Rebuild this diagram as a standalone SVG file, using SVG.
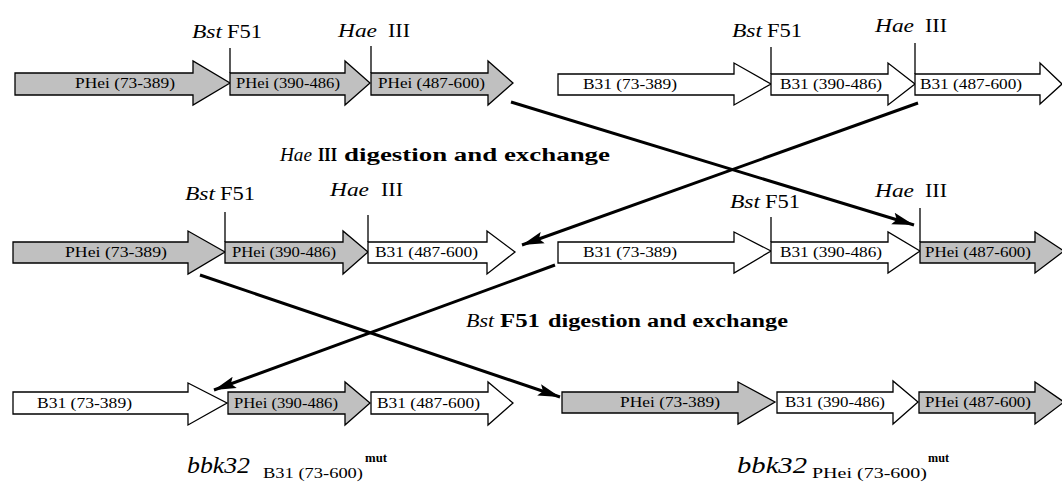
<svg xmlns="http://www.w3.org/2000/svg" width="1062" height="482" viewBox="0 0 1062 482">
  <style>
    .phei { fill: #c0c0c0; stroke: #000; stroke-width: 1.3; }
    .b31 { fill: #fff; stroke: #000; stroke-width: 1.3; }
    .seg { font-family: "Liberation Serif", "Times New Roman", serif; font-size: 15px; fill: #000; }
    .site { font-family: "Liberation Serif", "Times New Roman", serif; font-size: 19px; fill: #000; }
    .cut { stroke: #000; stroke-width: 1.3; }
    .title { font-family: "Liberation Serif", "Times New Roman", serif; font-size: 18px; fill: #000; }
    .name { font-family: "Liberation Serif", "Times New Roman", serif; fill: #000; }
    .conn { stroke: #000; stroke-width: 3; fill: none; marker-end: url(#head); }
    .it { font-style: italic; }
    .bd { font-weight: bold; }
  </style>
  <defs>
    <marker id="head" markerUnits="userSpaceOnUse" markerWidth="24" markerHeight="14" refX="22" refY="7" orient="auto">
      <path d="M0,1 L22,7 L0,13 L4,7 Z" fill="#000"/>
    </marker>
  </defs>
  <rect width="1062" height="482" fill="#fff"/>

  <!-- Row 1, left construct: PHei -->
  <g id="r1-left">
    <path class="phei" d="M15,73 L193,73 L193,61 L230,83 L193,105 L193,95 L15,95 Z"/>
    <text class="seg" x="75" y="88" textLength="100" lengthAdjust="spacingAndGlyphs">PHei (73-389)</text>
    <path class="phei" d="M230,73 L345,73 L345,61 L370,83 L345,105 L345,95 L230,95 Z"/>
    <text class="seg" x="236" y="88" textLength="104" lengthAdjust="spacingAndGlyphs">PHei (390-486)</text>
    <path class="phei" d="M371,73 L488,73 L488,61 L513,83 L488,105 L488,95 L371,95 Z"/>
    <text class="seg" x="378" y="88" textLength="107" lengthAdjust="spacingAndGlyphs">PHei (487-600)</text>
    <line class="cut" x1="230" y1="48" x2="230" y2="73"/>
    <line class="cut" x1="371" y1="46" x2="371" y2="73"/>
    <text class="site it" x="192" y="38" textLength="30" lengthAdjust="spacingAndGlyphs">Bst</text>
    <text class="site" x="227" y="38" textLength="35" lengthAdjust="spacingAndGlyphs">F51</text>
    <text class="site it" x="338" y="37" textLength="39" lengthAdjust="spacingAndGlyphs">Hae</text>
    <text class="site" x="388" y="37" textLength="22" lengthAdjust="spacingAndGlyphs">III</text>
  </g>

  <!-- Row 1, right construct: B31 -->
  <g id="r1-right">
    <path class="b31" d="M558,74 L734,74 L734,63 L771,84 L734,105 L734,95 L558,95 Z"/>
    <text class="seg" x="583" y="89" textLength="94" lengthAdjust="spacingAndGlyphs">B31 (73-389)</text>
    <path class="b31" d="M771,74 L888,74 L888,63 L915,84 L888,105 L888,95 L771,95 Z"/>
    <text class="seg" x="780" y="89" textLength="102" lengthAdjust="spacingAndGlyphs">B31 (390-486)</text>
    <path class="b31" d="M915,74 L1040,74 L1040,63 L1062,84 L1040,104 L1040,95 L915,95 Z"/>
    <text class="seg" x="920" y="89" textLength="102" lengthAdjust="spacingAndGlyphs">B31 (487-600)</text>
    <line class="cut" x1="771" y1="47" x2="771" y2="74"/>
    <line class="cut" x1="915" y1="43" x2="915" y2="74"/>
    <text class="site it" x="732" y="37" textLength="30" lengthAdjust="spacingAndGlyphs">Bst</text>
    <text class="site" x="767" y="37" textLength="35" lengthAdjust="spacingAndGlyphs">F51</text>
    <text class="site it" x="875" y="32" textLength="39" lengthAdjust="spacingAndGlyphs">Hae</text>
    <text class="site" x="925" y="32" textLength="22" lengthAdjust="spacingAndGlyphs">III</text>
  </g>

  <!-- First exchange step caption -->
  <g id="step1">
    <text class="title it" x="280" y="161" textLength="32" lengthAdjust="spacingAndGlyphs">Hae</text>
    <text class="title bd" x="318" y="161" textLength="19" lengthAdjust="spacingAndGlyphs">III</text>
    <text class="title bd" x="344" y="161" textLength="266" lengthAdjust="spacingAndGlyphs">digestion and exchange</text>
  </g>

  <!-- Row 2, left construct -->
  <g id="r2-left">
    <path class="phei" d="M13,242 L188,242 L188,231 L225,252 L188,274 L188,263 L13,263 Z"/>
    <text class="seg" x="65" y="257" textLength="102" lengthAdjust="spacingAndGlyphs">PHei (73-389)</text>
    <path class="phei" d="M225,242 L343,242 L343,231 L368,252 L343,274 L343,263 L225,263 Z"/>
    <text class="seg" x="232" y="257" textLength="104" lengthAdjust="spacingAndGlyphs">PHei (390-486)</text>
    <path class="b31" d="M368,242 L487,242 L487,231 L515,252 L487,274 L487,263 L368,263 Z"/>
    <text class="seg" x="375" y="257" textLength="103" lengthAdjust="spacingAndGlyphs">B31 (487-600)</text>
    <line class="cut" x1="225" y1="212" x2="225" y2="242"/>
    <line class="cut" x1="368" y1="215" x2="368" y2="242"/>
    <text class="site it" x="185" y="200" textLength="30" lengthAdjust="spacingAndGlyphs">Bst</text>
    <text class="site" x="220" y="200" textLength="35" lengthAdjust="spacingAndGlyphs">F51</text>
    <text class="site it" x="330" y="196" textLength="39" lengthAdjust="spacingAndGlyphs">Hae</text>
    <text class="site" x="381" y="196" textLength="22" lengthAdjust="spacingAndGlyphs">III</text>
  </g>

  <!-- Row 2, right construct -->
  <g id="r2-right">
    <path class="b31" d="M558,242 L734,242 L734,232 L771,251 L734,273 L734,263 L558,263 Z"/>
    <text class="seg" x="583" y="257" textLength="94" lengthAdjust="spacingAndGlyphs">B31 (73-389)</text>
    <path class="b31" d="M771,242 L888,242 L888,232 L920,251 L888,273 L888,263 L771,263 Z"/>
    <text class="seg" x="780" y="257" textLength="102" lengthAdjust="spacingAndGlyphs">B31 (390-486)</text>
    <path class="phei" d="M920,242 L1035,242 L1035,232 L1064,251 L1035,273 L1035,263 L920,263 Z"/>
    <text class="seg" x="925" y="257" textLength="106" lengthAdjust="spacingAndGlyphs">PHei (487-600)</text>
    <line class="cut" x1="771" y1="217" x2="771" y2="242"/>
    <line class="cut" x1="920" y1="208" x2="920" y2="242"/>
    <text class="site it" x="730" y="208" textLength="30" lengthAdjust="spacingAndGlyphs">Bst</text>
    <text class="site" x="765" y="208" textLength="35" lengthAdjust="spacingAndGlyphs">F51</text>
    <text class="site it" x="875" y="197" textLength="39" lengthAdjust="spacingAndGlyphs">Hae</text>
    <text class="site" x="925" y="197" textLength="22" lengthAdjust="spacingAndGlyphs">III</text>
  </g>

  <!-- Second exchange step caption -->
  <g id="step2">
    <text class="title it" x="466" y="327" textLength="28" lengthAdjust="spacingAndGlyphs">Bst</text>
    <text class="title bd" x="500" y="327" textLength="40" lengthAdjust="spacingAndGlyphs">F51</text>
    <text class="title bd" x="548" y="327" textLength="240" lengthAdjust="spacingAndGlyphs">digestion and exchange</text>
  </g>

  <!-- Row 3, left product -->
  <g id="r3-left">
    <path class="b31" d="M13,392 L188,392 L188,383 L227,403 L188,425 L188,414 L13,414 Z"/>
    <text class="seg" x="37" y="408" textLength="95" lengthAdjust="spacingAndGlyphs">B31 (73-389)</text>
    <path class="phei" d="M228,392 L345,392 L345,382 L370,403 L345,425 L345,414 L228,414 Z"/>
    <text class="seg" x="234" y="408" textLength="104" lengthAdjust="spacingAndGlyphs">PHei (390-486)</text>
    <path class="b31" d="M371,392 L488,392 L488,382 L513,403 L488,425 L488,414 L371,414 Z"/>
    <text class="seg" x="377" y="408" textLength="103" lengthAdjust="spacingAndGlyphs">B31 (487-600)</text>
    <text class="name it" x="187" y="473" font-size="23" textLength="63" lengthAdjust="spacingAndGlyphs">bbk32</text>
    <text class="name" x="263" y="478" font-size="14" textLength="100" lengthAdjust="spacingAndGlyphs">B31 (73-600)</text>
    <text class="name bd" x="365" y="462" font-size="12" textLength="22" lengthAdjust="spacingAndGlyphs">mut</text>
  </g>

  <!-- Row 3, right product -->
  <g id="r3-right">
    <path class="phei" d="M562,392 L738,392 L738,382 L775,402 L738,424 L738,413 L562,413 Z"/>
    <text class="seg" x="620" y="407" textLength="100" lengthAdjust="spacingAndGlyphs">PHei (73-389)</text>
    <path class="b31" d="M777,392 L893,392 L893,381 L918,402 L893,424 L893,413 L777,413 Z"/>
    <text class="seg" x="785" y="407" textLength="100" lengthAdjust="spacingAndGlyphs">B31 (390-486)</text>
    <path class="phei" d="M919,392 L1035,392 L1035,382 L1064,402 L1035,424 L1035,413 L919,413 Z"/>
    <text class="seg" x="925" y="407" textLength="106" lengthAdjust="spacingAndGlyphs">PHei (487-600)</text>
    <text class="name it" x="737" y="473" font-size="23" textLength="70" lengthAdjust="spacingAndGlyphs">bbk32</text>
    <text class="name" x="812" y="478" font-size="14" textLength="115" lengthAdjust="spacingAndGlyphs">PHei (73-600)</text>
    <text class="name bd" x="928" y="462" font-size="12" textLength="21" lengthAdjust="spacingAndGlyphs">mut</text>
  </g>

  <!-- Fragment exchange connectors -->
  <g id="connectors">
    <line class="conn" x1="511" y1="102" x2="914" y2="225"/>
    <line class="conn" x1="918" y1="103" x2="522" y2="245"/>
    <line class="conn" x1="555" y1="265" x2="214" y2="390"/>
    <line class="conn" x1="200" y1="275" x2="560" y2="397"/>
  </g>
</svg>
